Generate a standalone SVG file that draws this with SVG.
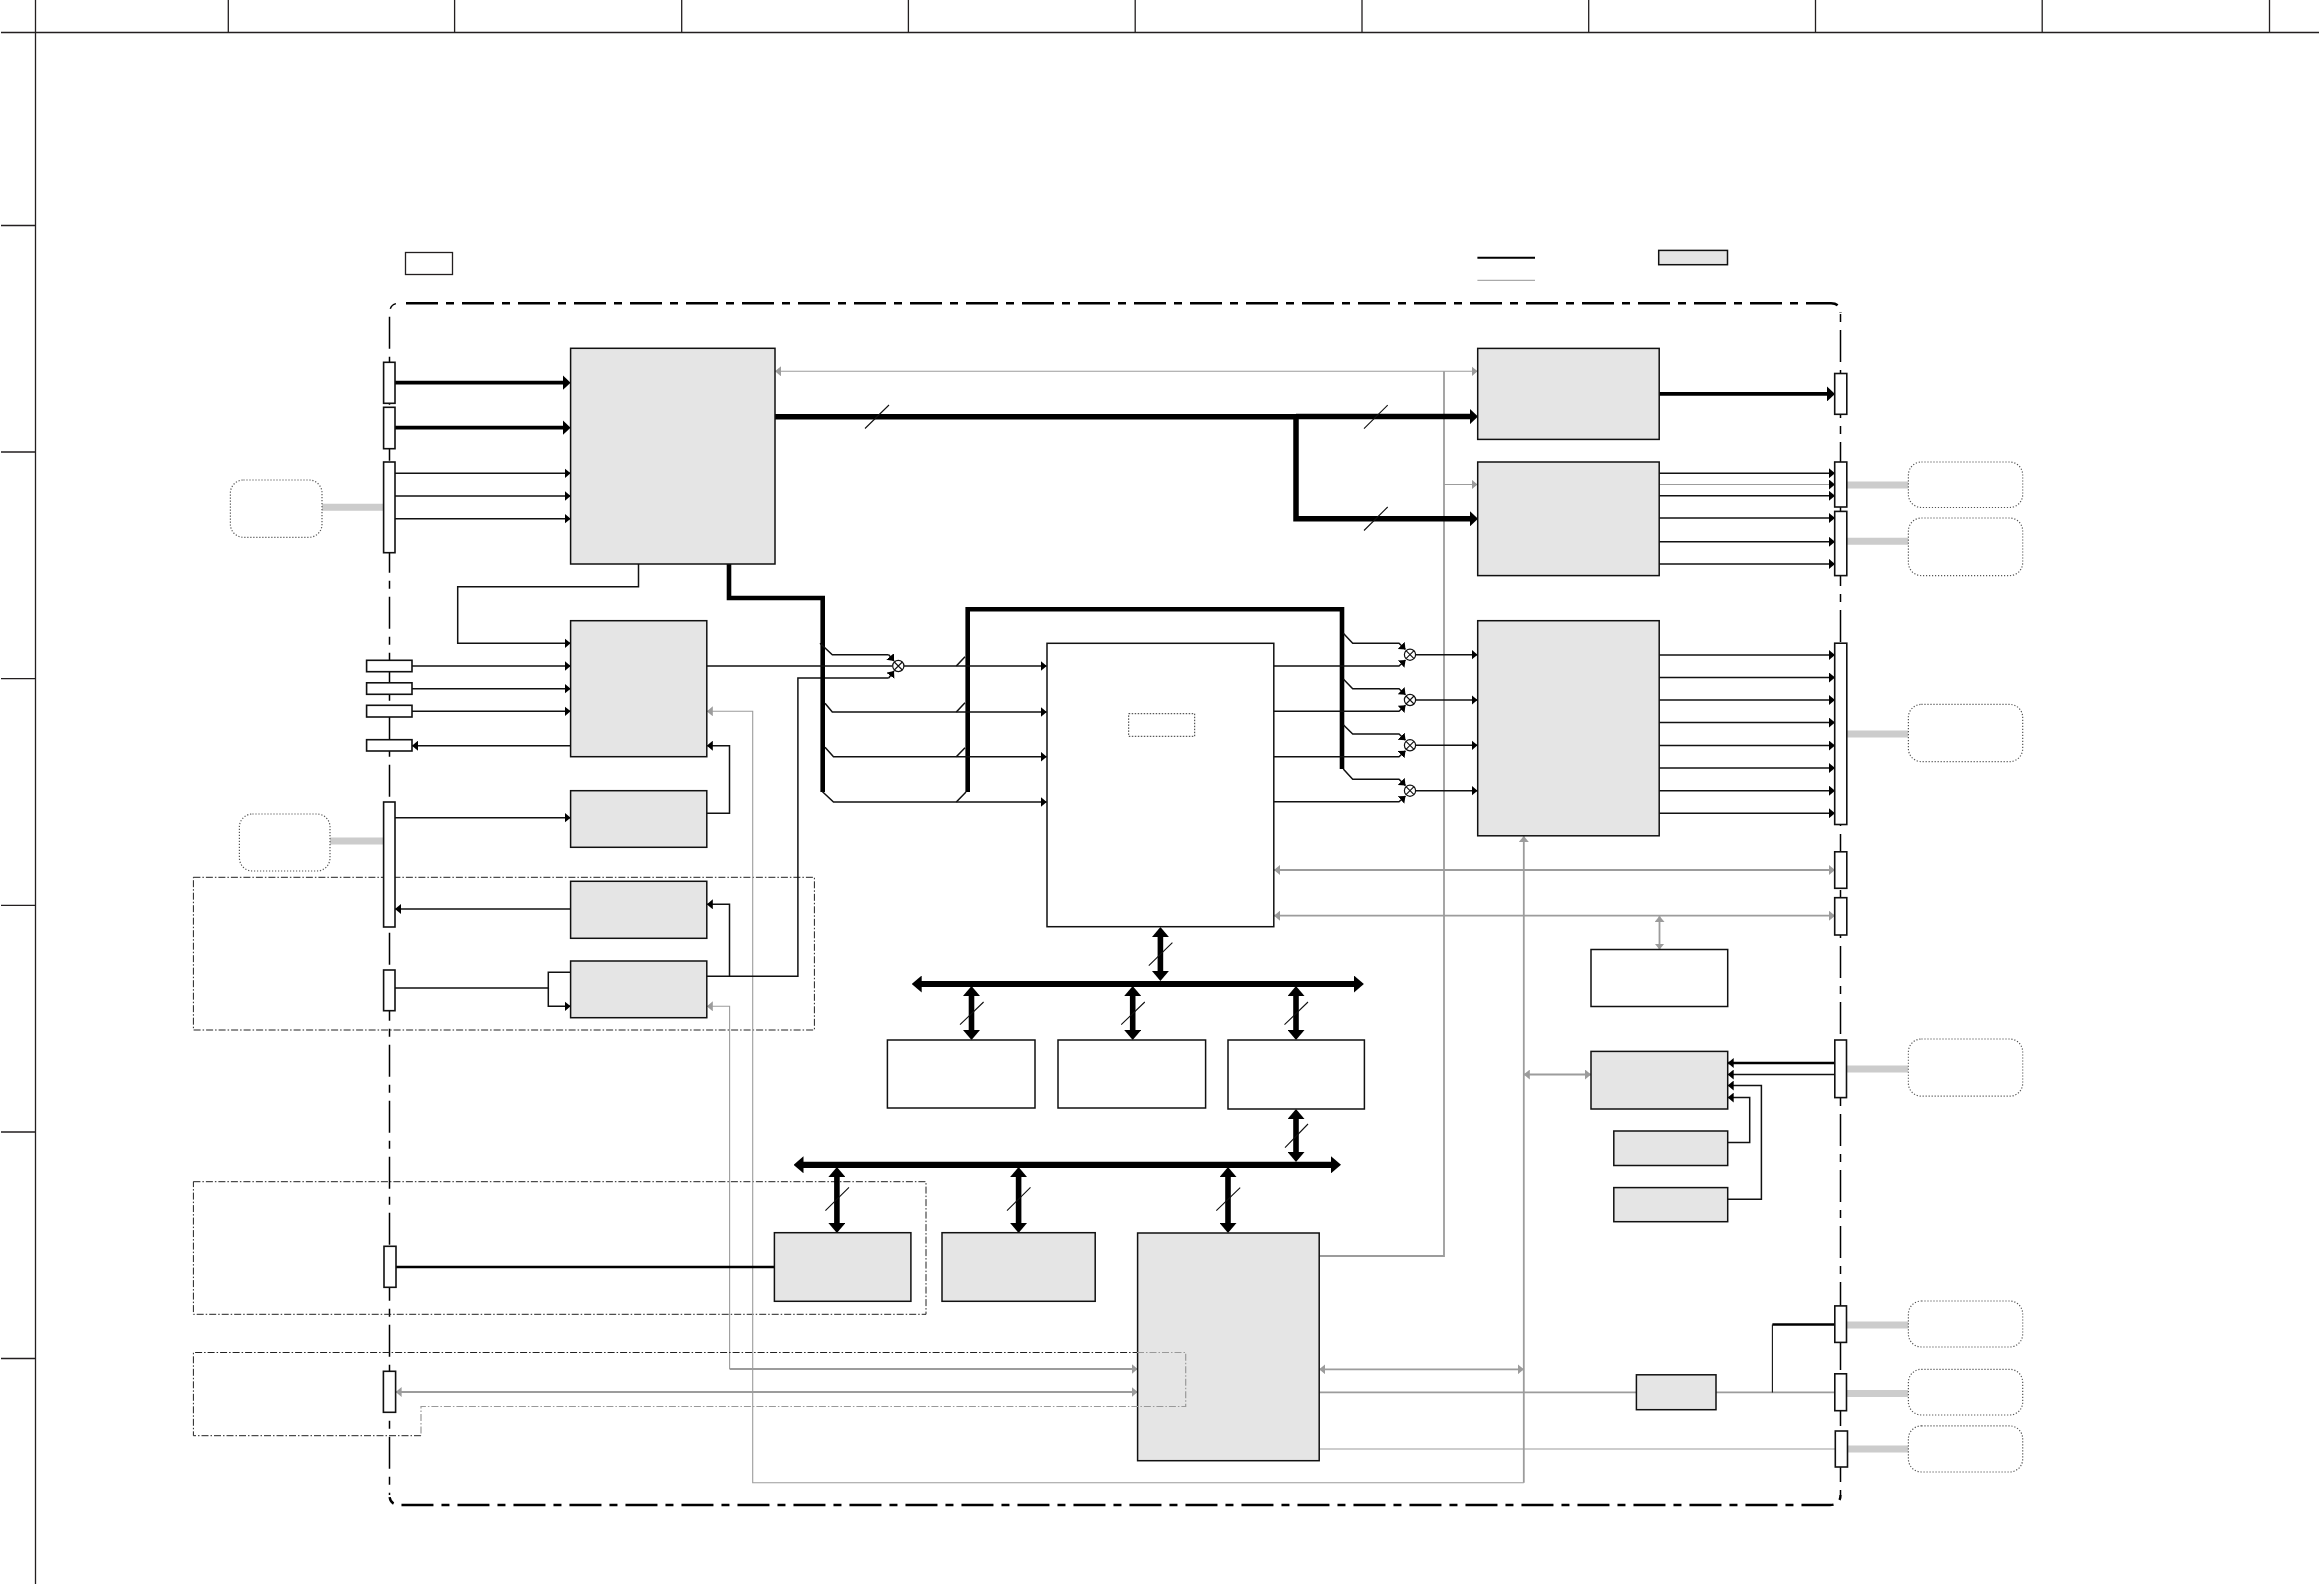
<svg xmlns="http://www.w3.org/2000/svg" width="2319" height="1584" viewBox="0 0 2319 1584">
<style>
.f{fill:none;stroke:#231f20;stroke-width:1.3}
.b{fill:#e5e5e5;stroke:#111;stroke-width:1.5}
.w{fill:#fff;stroke:#111;stroke-width:1.5}
.c{fill:#fff;stroke:#111;stroke-width:1.6}
.cl{fill:#fff;stroke:#555;stroke-width:1.2;stroke-dasharray:1.2 1.8}
.l{fill:none;stroke:#111;stroke-width:1.5}
.m{fill:none;stroke:#000;stroke-width:2.6}
.ma{fill:none;stroke:#000;stroke-width:3.8}
.t{fill:none;stroke:#000;stroke-width:4.6}
.h{fill:none;stroke:#000;stroke-width:5.5}
.v{fill:none;stroke:#000;stroke-width:5.6}
.bs{fill:none;stroke:#000;stroke-width:6.2}
.g{fill:none;stroke:#9c9c9c;stroke-width:1.1}
.gm{fill:none;stroke:#9c9c9c;stroke-width:1.8}
.gt{fill:none;stroke:#ccc;stroke-width:7}
.s{fill:none;stroke:#111;stroke-width:1.1}
.d{fill:none;stroke:#222;stroke-width:1;stroke-dasharray:7 2 1.5 2}
.dg{fill:none;stroke:#999;stroke-width:1.2;stroke-dasharray:7 2 1.5 2}
.fr{fill:none;stroke:#000;stroke-dasharray:32 8 8 8}
.mx{fill:#fff;stroke:#111;stroke-width:1.2}
</style>
<defs>
<marker id="a" viewBox="0 0 6 10" refX="6" refY="5" markerWidth="6" markerHeight="10" markerUnits="userSpaceOnUse" orient="auto-start-reverse"><path d="M0 0L6 5L0 10z" fill="#000"/></marker>
<marker id="ag" viewBox="0 0 6 10" refX="6" refY="5" markerWidth="6" markerHeight="10" markerUnits="userSpaceOnUse" orient="auto-start-reverse"><path d="M0 0L6 5L0 10z" fill="#9c9c9c"/></marker>
<marker id="at" viewBox="0 0 8 15" refX="2" refY="7.5" markerWidth="8" markerHeight="15" markerUnits="userSpaceOnUse" orient="auto-start-reverse"><path d="M0 0L8 7.5L0 15z" fill="#000"/></marker>
<marker id="ab" viewBox="0 0 10 17" refX="2" refY="8.5" markerWidth="10" markerHeight="17" markerUnits="userSpaceOnUse" orient="auto-start-reverse"><path d="M0 0L10 8.5L0 17z" fill="#000"/></marker>
</defs>

<g id="sheet-frame">
<path class="f" d="M1 32.5H2319M35.5 0V1584M228.3 0V32.5M454.6 0V32.5M681.7 0V32.5M908.4 0V32.5M1135.2 0V32.5M1362 0V32.5M1588.7 0V32.5M1815.5 0V32.5M2042.2 0V32.5M2269.5 0V32.5M1 225.5H35.5M1 452H35.5M1 678.7H35.5M1 905.3H35.5M1 1132H35.5M1 1358.5H35.5"/>
</g>

<g id="board-outline">
<path class="fr" stroke-width="2.4" stroke-dashoffset="49" d="M399 303.3H1831Q1840.5 303.3 1840.5 313"/>
<path class="fr" stroke-width="2.4" stroke-dashoffset="38" d="M389.5 1495Q389.5 1505 400 1505H1830Q1840.5 1505 1840.5 1495"/>
<path class="fr" stroke-width="1.5" stroke-dashoffset="37" d="M399 303.3Q389.5 303.3 389.5 314V1495"/>
<path class="fr" stroke-width="1.5" stroke-dashoffset="39" d="M1840.5 313V1495"/>
</g>

<g id="regions">
<rect class="d" x="193.4" y="877.3" width="621" height="152.7"/>
<rect class="d" x="193.4" y="1181.7" width="732.6" height="132.6"/>
</g>

<g id="connectors">
<path class="g" marker-start="url(#ag)" marker-end="url(#ag)" d="M775 371.3H1477.5"/>
<path class="gm" d="M1444 371.3V1256H1319.2"/>
<path class="g" marker-end="url(#ag)" d="M1444 484.5H1477.5"/>
<path class="gm" marker-start="url(#ag)" marker-end="url(#ag)" d="M1274 870H1835"/>
<path class="gm" marker-start="url(#ag)" marker-end="url(#ag)" d="M1274 915.7H1835"/>
<path class="gm" marker-start="url(#ag)" marker-end="url(#ag)" d="M1659.5 916V949.5"/>
<path class="gm" marker-start="url(#ag)" marker-end="url(#ag)" d="M1523.8 1074.5H1591"/>
<path class="g" marker-start="url(#ag)" d="M706.8 711.3H752.7V1482.8H1523.8"/>
<path class="gm" marker-end="url(#ag)" d="M1523.8 1482.8V836"/>
<path class="g" marker-start="url(#ag)" d="M706.8 1006.3H729.6V1369"/>
<path class="gm" marker-end="url(#ag)" d="M729.6 1369H1137.6"/>
<path class="gm" marker-start="url(#ag)" marker-end="url(#ag)" d="M395.6 1392H1137.6"/>
<path class="gm" marker-start="url(#ag)" marker-end="url(#ag)" d="M1319.2 1369.3H1523.8"/>
<path class="gm" d="M1319.2 1392.4H1835"/>
<path class="g" d="M1319.2 1449H1835.3"/>

<path class="gt" d="M322 507.3H383.6M330 841H384M1847 485H1908.4M1847 541.3H1908.4M1847 733.9H1908.4M1847 1069H1908.4M1847 1325H1908.4M1847 1393.4H1908.4M1847.5 1449H1908.4"/>

<path class="ma" marker-end="url(#at)" d="M395 382.7H564.6"/>
<path class="ma" marker-end="url(#at)" d="M395 427.7H564.6"/>
<path class="ma" marker-end="url(#at)" d="M1659 393.9H1829"/>
<path class="l" marker-end="url(#a)" d="M395 473.3H570.6"/>
<path class="l" marker-end="url(#a)" d="M395 496H570.6"/>
<path class="l" marker-end="url(#a)" d="M395 518.7H570.6"/>
<path class="l" marker-end="url(#a)" d="M638.5 564V586.7H457.7V643.3H570.6"/>
<path class="l" marker-end="url(#a)" d="M412 666H570.6"/>
<path class="l" marker-end="url(#a)" d="M412 688.7H570.6"/>
<path class="l" marker-end="url(#a)" d="M412 711.3H570.6"/>
<path class="l" marker-end="url(#a)" d="M570.6 745.7H412"/>
<path class="l" marker-end="url(#a)" d="M706.8 813.3H729.5V745.7H706.8"/>
<path class="l" marker-end="url(#a)" d="M395 817.7H570.6"/>
<path class="l" marker-end="url(#a)" d="M570.6 909H395"/>
<path class="l" marker-end="url(#a)" d="M729.5 976.3V904.3H706.8"/>
<path class="l" d="M395 988H548.3V972.3H570.6"/>
<path class="l" marker-end="url(#a)" d="M548.3 988V1006.3H570.6"/>
<path class="l" d="M706.8 976.3H797.9V678H888.7"/>
<path class="m" d="M396 1267H774.4"/>

<path class="h" d="M775 416.7H1296"/>
<path class="h" marker-end="url(#at)" d="M1296 416.6H1472"/>
<path class="h" marker-end="url(#at)" d="M1296 414V518.8H1472"/>
<path class="t" d="M729 564V598H822.7V792"/>
<path class="t" d="M967.7 792V609.3H1342V769"/>

<path class="l" d="M706.8 666H892.5"/>
<path class="l" marker-end="url(#a)" d="M888.7 654.7L894 661"/>
<path class="l" marker-end="url(#a)" d="M888.7 678L894 671"/>
<path class="l" d="M820 643.3L832.3 654.7H888.7"/>
<path class="l" marker-end="url(#a)" d="M904 666H1046.7"/>
<path class="l" marker-end="url(#a)" d="M825 703.3L832.3 712H1046.7"/>
<path class="l" marker-end="url(#a)" d="M825 747.3L833.5 756.7H1046.7"/>
<path class="l" marker-end="url(#a)" d="M822 791.3L833.5 802H1046.7"/>
<path class="l" d="M956.3 666L965 656.7M956.3 712L965 702.7M956.3 756.7L965 747.7M956.3 802L966 792"/>

<path class="l" marker-end="url(#a)" d="M1274 666H1399L1405.5 660"/>
<path class="l" marker-end="url(#a)" d="M1274 711.3H1399L1405.5 705.3"/>
<path class="l" marker-end="url(#a)" d="M1274 756.7H1399L1405.5 750.7"/>
<path class="l" marker-end="url(#a)" d="M1274 801.7H1399L1405.5 796"/>
<path class="l" marker-end="url(#a)" d="M1343.3 633.3L1352.7 643.3H1399L1405.5 649.5"/>
<path class="l" marker-end="url(#a)" d="M1343.3 679L1352.7 688.7H1399L1405.5 694.8"/>
<path class="l" marker-end="url(#a)" d="M1343.3 724.7L1352.7 734H1399L1405.5 740.2"/>
<path class="l" marker-end="url(#a)" d="M1343.3 769L1352.7 779.3H1399L1405.5 785.6"/>
<path class="l" marker-end="url(#a)" d="M1415.5 654.7H1477.5"/>
<path class="l" marker-end="url(#a)" d="M1415.5 700H1477.5"/>
<path class="l" marker-end="url(#a)" d="M1415.5 745.3H1477.5"/>
<path class="l" marker-end="url(#a)" d="M1415.5 790.7H1477.5"/>

<path class="l" marker-end="url(#a)" d="M1659 473.2H1835"/>
<path class="g" marker-end="url(#a)" d="M1659 484.5H1835"/>
<path class="l" marker-end="url(#a)" d="M1659 495.8H1835"/>
<path class="l" marker-end="url(#a)" d="M1659 518H1835"/>
<path class="l" marker-end="url(#a)" d="M1659 541.8H1835"/>
<path class="l" marker-end="url(#a)" d="M1659 563.9H1835"/>
<path class="l" marker-end="url(#a)" d="M1659 655H1835"/>
<path class="l" marker-end="url(#a)" d="M1659 677.5H1835"/>
<path class="l" marker-end="url(#a)" d="M1659 700H1835"/>
<path class="l" marker-end="url(#a)" d="M1659 722.6H1835"/>
<path class="l" marker-end="url(#a)" d="M1659 745.6H1835"/>
<path class="l" marker-end="url(#a)" d="M1659 768H1835"/>
<path class="l" marker-end="url(#a)" d="M1659 790.7H1835"/>
<path class="l" marker-end="url(#a)" d="M1659 813.2H1835"/>

<path class="m" marker-end="url(#a)" d="M1835 1063H1727.7"/>
<path class="l" marker-end="url(#a)" d="M1835 1074.5H1727.7"/>
<path class="l" marker-end="url(#a)" d="M1727.7 1199.3H1761.4V1085.5H1727.7"/>
<path class="l" marker-end="url(#a)" d="M1727.7 1142.4H1749.7V1097.6H1727.7"/>
<path class="m" d="M1835 1324.5H1772.4"/>
<path class="s" d="M1772.4 1324.5V1392.4"/>

<path class="bs" marker-start="url(#ab)" marker-end="url(#ab)" d="M919.7 984H1355.9"/>
<path class="bs" marker-start="url(#ab)" marker-end="url(#ab)" d="M801.5 1164.8H1333"/>
<path class="v" marker-start="url(#ab)" marker-end="url(#ab)" d="M1160.4 935V973"/>
<path class="v" marker-start="url(#ab)" marker-end="url(#ab)" d="M971.5 994V1032"/>
<path class="v" marker-start="url(#ab)" marker-end="url(#ab)" d="M1132.7 994V1032"/>
<path class="v" marker-start="url(#ab)" marker-end="url(#ab)" d="M1296 994V1032"/>
<path class="v" marker-start="url(#ab)" marker-end="url(#ab)" d="M1296 1117V1154"/>
<path class="v" marker-start="url(#ab)" marker-end="url(#ab)" d="M836.9 1175V1225"/>
<path class="v" marker-start="url(#ab)" marker-end="url(#ab)" d="M1018.6 1175V1225"/>
<path class="v" marker-start="url(#ab)" marker-end="url(#ab)" d="M1228 1175V1225"/>

<path class="s" d="M865 428.5L889 405M1364 428.6L1387.7 405.2M1364 530.5L1387.7 507M1148.8 965.7L1172.4 942.7M960 1024.7L983.6 1002M1121.2 1024.7L1144.8 1002M1284.5 1024.7L1308 1002M1285 1147.6L1308 1124M825.4 1210.7L849 1187.3M1007 1210.7L1030.5 1187.3M1216.3 1210.7L1240.2 1187.6"/>
</g>

<g id="legend">
<rect class="f" x="405.5" y="252.5" width="47" height="22"/>
<path d="M1477.4 257.7H1535" fill="none" stroke="#000" stroke-width="2"/>
<path d="M1477.4 280.3H1535" fill="none" stroke="#aaa" stroke-width="1.2"/>
<rect class="b" x="1658.7" y="250.4" width="68.8" height="14.3"/>
</g>

<g id="block-a"><rect class="b" x="570.6" y="348.3" width="204.4" height="215.7"/></g>
<g id="block-b"><rect class="b" x="570.6" y="620.7" width="136.2" height="136"/></g>
<g id="block-c"><rect class="b" x="570.6" y="790.7" width="136.2" height="56.6"/></g>
<g id="block-d"><rect class="b" x="570.6" y="881.3" width="136.2" height="57"/></g>
<g id="block-e"><rect class="b" x="570.6" y="961" width="136.2" height="56.7"/></g>
<g id="block-f"><rect class="w" x="1047" y="643.3" width="226.8" height="283.4"/><rect x="1128.7" y="713.7" width="66" height="22.6" fill="none" stroke="#333" stroke-width="1" stroke-dasharray="1.5 1.5"/></g>
<g id="block-g"><rect class="w" x="887.4" y="1040" width="147.6" height="68"/></g>
<g id="block-h"><rect class="w" x="1058" y="1040" width="147.6" height="68"/></g>
<g id="block-i"><rect class="w" x="1228" y="1040" width="136.4" height="69"/></g>
<g id="block-j"><rect class="b" x="1137.6" y="1233" width="181.6" height="227.7"/></g>
<g id="block-k"><rect class="b" x="1477.7" y="620.7" width="181.5" height="215.1"/></g>
<g id="block-l"><rect class="b" x="1477.7" y="348.4" width="181.5" height="91"/></g>
<g id="block-m"><rect class="b" x="1477.7" y="462" width="181.5" height="113.6"/></g>
<g id="block-n"><rect class="w" x="1591" y="949.5" width="136.7" height="57"/></g>
<g id="block-o"><rect class="b" x="1591" y="1051.4" width="136.7" height="57.6"/></g>
<g id="block-p"><rect class="b" x="1613.8" y="1131" width="113.9" height="34.5"/></g>
<g id="block-q"><rect class="b" x="1613.8" y="1187.6" width="113.9" height="34.1"/></g>
<g id="block-s"><rect class="b" x="1636.4" y="1374.8" width="79.6" height="34.9"/></g>
<g id="block-t"><rect class="b" x="774.4" y="1232.7" width="136.5" height="68.6"/></g>
<g id="block-u"><rect class="b" x="942" y="1232.7" width="153.2" height="68.6"/></g>

<g id="pin-l1"><rect class="c" x="383.6" y="362.3" width="11.4" height="41"/></g>
<g id="pin-l2"><rect class="c" x="383.6" y="407.3" width="11.4" height="41.4"/></g>
<g id="pin-l3"><rect class="c" x="383.6" y="462" width="11.4" height="90.7"/></g>
<g id="pin-l4"><rect class="c" x="366.6" y="660.3" width="45.4" height="11.4"/></g>
<g id="pin-l5"><rect class="c" x="366.6" y="682.8" width="45.4" height="11.5"/></g>
<g id="pin-l6"><rect class="c" x="366.6" y="705.3" width="45.4" height="11.7"/></g>
<g id="pin-l7"><rect class="c" x="366.6" y="739.7" width="45.4" height="11.3"/></g>
<g id="pin-l8"><rect class="c" x="383.6" y="802" width="11.4" height="125"/></g>
<g id="pin-l9"><rect class="c" x="383.6" y="970" width="11.4" height="40.7"/></g>
<g id="pin-l10"><rect class="c" x="384" y="1246.3" width="12" height="41"/></g>
<g id="pin-l11"><rect class="c" x="383.4" y="1371.3" width="12.2" height="41"/></g>
<g id="pin-r1"><rect class="c" x="1834.7" y="373.5" width="12.1" height="40.8"/></g>
<g id="pin-r2"><rect class="c" x="1834.7" y="462" width="12.1" height="45"/></g>
<g id="pin-r3"><rect class="c" x="1834.7" y="511.4" width="12.1" height="64.2"/></g>
<g id="pin-r4"><rect class="c" x="1834.7" y="643.2" width="12.1" height="181.3"/></g>
<g id="pin-r5"><rect class="c" x="1834.7" y="851.8" width="12.1" height="36.5"/></g>
<g id="pin-r6"><rect class="c" x="1834.7" y="897.7" width="12.1" height="37.3"/></g>
<g id="pin-r7"><rect class="c" x="1834.8" y="1040" width="11.7" height="57.6"/></g>
<g id="pin-r8"><rect class="c" x="1834.8" y="1305.9" width="11.7" height="36.5"/></g>
<g id="pin-r9"><rect class="c" x="1834.8" y="1373.8" width="11.7" height="36.9"/></g>
<g id="pin-r10"><rect class="c" x="1835.3" y="1431" width="12.2" height="36"/></g>

<g id="cloud-l1"><rect class="cl" x="230.4" y="480" width="91.6" height="57.3" rx="13"/></g>
<g id="cloud-l2"><rect class="cl" x="239.4" y="814" width="90.6" height="57" rx="13"/></g>
<g id="cloud-r1"><rect class="cl" x="1908.4" y="462" width="114.3" height="45.5" rx="13"/></g>
<g id="cloud-r2"><rect class="cl" x="1908.4" y="518" width="114.3" height="57.6" rx="13"/></g>
<g id="cloud-r3"><rect class="cl" x="1908.4" y="704.4" width="114.3" height="57.2" rx="13"/></g>
<g id="cloud-r4"><rect class="cl" x="1908.4" y="1039" width="114.3" height="57.2" rx="13"/></g>
<g id="cloud-r5"><rect class="cl" x="1908.4" y="1301" width="114.3" height="46" rx="13"/></g>
<g id="cloud-r6"><rect class="cl" x="1908.4" y="1369.3" width="114.3" height="45.7" rx="13"/></g>
<g id="cloud-r7"><rect class="cl" x="1908.4" y="1425.9" width="114.3" height="46.1" rx="13"/></g>

<g id="mux-1"><circle class="mx" cx="898.3" cy="666" r="5.6"/><path class="s" d="M894.3 662L902.3 670M894.3 670L902.3 662"/></g>
<g id="mux-2"><circle class="mx" cx="1410" cy="654.7" r="5.6"/><path class="s" d="M1406 650.7L1414 658.7M1406 658.7L1414 650.7"/></g>
<g id="mux-3"><circle class="mx" cx="1410" cy="700" r="5.6"/><path class="s" d="M1406 696L1414 704M1406 704L1414 696"/></g>
<g id="mux-4"><circle class="mx" cx="1410" cy="745.3" r="5.6"/><path class="s" d="M1406 741.3L1414 749.3M1406 749.3L1414 741.3"/></g>
<g id="mux-5"><circle class="mx" cx="1410" cy="790.7" r="5.6"/><path class="s" d="M1406 786.7L1414 794.7M1406 794.7L1414 786.7"/></g>

<g id="region-3">
<path class="d" d="M421 1435.7H193.4V1352.5H1137"/>
<path class="dg" d="M1137 1352.5H1185.7V1406.5H421V1435.7"/>
</g>
</svg>
